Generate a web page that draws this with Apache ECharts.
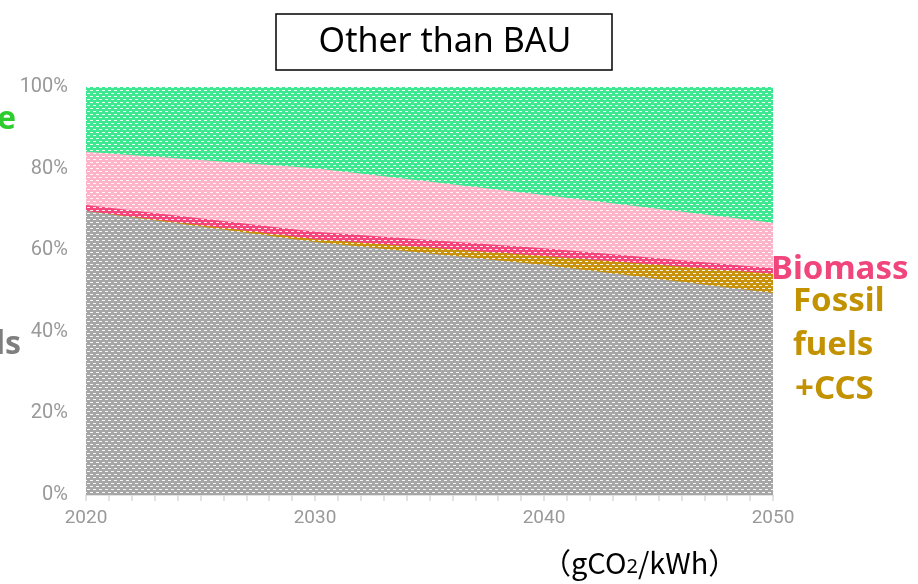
<!DOCTYPE html>
<html>
<head>
<meta charset="utf-8">
<script src="https://cdn.jsdelivr.net/npm/echarts@6/dist/echarts.min.js"></script>
<style>
html, body { margin: 0; padding: 0; background: #fff; }
#chart { width: 918px; height: 584px; }
</style>
</head>
<body>
<div id="chart"></div>
<script>
// data (share of generation, %)
var years = [2020, 2030, 2040, 2050];
var fossil = [69.6, 62.0, 56.4, 49.5];
var fossilCcs = [0, 0.7, 2.2, 4.7];
var biomass = [1.5, 1.8, 1.9, 1.4];
var other = [13.0, 15.6, 13.0, 11.1];
var renewable = [15.9, 19.9, 26.5, 33.3];
var yTicks = [0, 20, 40, 60, 80, 100];

var myChart = echarts.init(document.getElementById('chart'));

// dotted fill like the original office chart
function dots(color) {
    var c = document.createElement('canvas');
    c.width = 6;
    c.height = 6;
    var ctx = c.getContext('2d');
    ctx.fillStyle = color;
    ctx.fillRect(0, 0, 6, 6);
    ctx.fillStyle = 'rgba(255,255,255,0.9)';
    ctx.fillRect(0, 0, 3, 1);
    ctx.fillRect(3, 3, 3, 1);
    return { image: c, repeat: 'repeat' };
}

// the x axis is a value axis, so echarts would stack on x; stack by hand instead
var layers = [
    { name: 'Fossil fuels', vals: fossil, color: '#a6a6a6' },
    { name: 'Fossil fuels +CCS', vals: fossilCcs, color: '#c8920c' },
    { name: 'Biomass', vals: biomass, color: '#f4457c' },
    { name: 'Other', vals: other, color: '#ffb3c8' },
    { name: 'Renewable', vals: renewable, color: '#3ee890' }
];
var running = years.map(function () { return 0; });
var series = layers.map(function (l, k) {
    running = running.map(function (r, i) { return r + l.vals[i]; });
    return {
        name: l.name,
        type: 'line',
        z: 10 - k,
        data: years.map(function (y, i) { return [y, running[i]]; }),
        showSymbol: false,
        lineStyle: { width: 0 },
        areaStyle: { color: dots(l.color), opacity: 1 },
        emphasis: { disabled: true }
    };
});

var tickStyle = { color: '#d9d9d9', width: 1.5 };

var option = {
    animation: false,
    grid: { left: 86, right: 145, top: 87, bottom: 89 },
    xAxis: {
        type: 'value',
        min: 2020,
        max: 2050,
        interval: 10,
        axisLine: { lineStyle: tickStyle },
        axisTick: { show: true, length: 6, lineStyle: tickStyle },
        minorTick: { show: true, splitNumber: 10, length: 6, lineStyle: tickStyle },
        splitLine: { show: false },
        axisLabel: {
            color: '#999', fontSize: 19, fontFamily: 'Roboto', margin: 14,
            formatter: function (v) { return String(v); }
        }
    },
    yAxis: {
        type: 'value',
        min: yTicks[0],
        max: yTicks[yTicks.length - 1],
        interval: 20,
        axisLine: { show: false },
        axisTick: { show: false },
        splitLine: { show: false },
        axisLabel: { color: '#999', fontSize: 20, fontFamily: 'Roboto', margin: 18, formatter: '{value}%' }
    },
    series: series,
    graphic: [
        {
            type: 'rect',
            shape: { x: 276, y: 14, width: 336, height: 56 },
            style: { fill: '#fff', stroke: '#000', lineWidth: 1.5 }
        },
        {
            type: 'text',
            x: 445, y: 42,
            style: { text: 'Other than BAU', fontSize: 34, fontFamily: 'Noto Sans', fill: '#000', align: 'center', verticalAlign: 'middle' }
        },
        {
            type: 'text',
            x: 542, y: 563,
            style: {
                text: '（gCO{s|2}/kWh）',
                fontSize: 29, fontFamily: 'Noto Sans CJK JP', fill: '#000', verticalAlign: 'middle',
                rich: { s: { fontSize: 20, fontFamily: 'Noto Sans', fill: '#000', padding: [8, 0, 0, 0] } }
            }
        },
        {
            type: 'text',
            x: 16, y: 120,
            style: { text: 'Renewable', fontSize: 32, fontWeight: 'bold', fontFamily: 'Noto Sans', fill: '#2ecc2e', align: 'right', verticalAlign: 'middle' }
        },
        {
            type: 'text',
            x: 21, y: 345,
            style: { text: 'Fossil fuels', fontSize: 32, fontWeight: 'bold', fontFamily: 'Noto Sans', fill: '#7f7f7f', align: 'right', verticalAlign: 'middle' }
        },
        {
            type: 'text',
            x: 771, y: 270,
            style: { text: 'Biomass', fontSize: 33, fontWeight: 'bold', fontFamily: 'Noto Sans', fill: '#f0467c', verticalAlign: 'middle' }
        },
        {
            type: 'text',
            x: 793, y: 302,
            style: { text: 'Fossil', fontSize: 33, fontWeight: 'bold', fontFamily: 'Noto Sans', fill: '#c29200', verticalAlign: 'middle' }
        },
        {
            type: 'text',
            x: 793, y: 346,
            style: { text: 'fuels', fontSize: 33, fontWeight: 'bold', fontFamily: 'Noto Sans', fill: '#c29200', verticalAlign: 'middle' }
        },
        {
            type: 'text',
            x: 795, y: 390,
            style: { text: '+CCS', fontSize: 33, fontWeight: 'bold', fontFamily: 'Noto Sans', fill: '#c29200', verticalAlign: 'middle' }
        }
    ]
};

myChart.setOption(option);
</script>
</body>
</html>
